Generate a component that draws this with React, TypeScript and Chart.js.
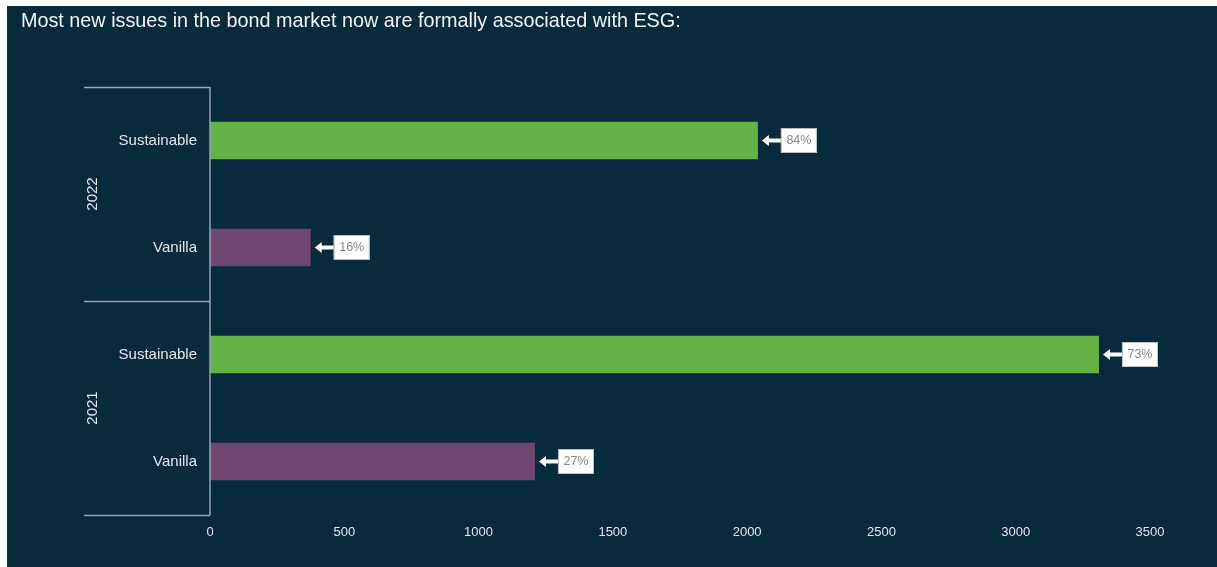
import React, { useEffect, useRef } from "react";
import { Chart, registerables } from "chart.js";

Chart.register(...registerables);

const TITLE = "Most new issues in the bond market now are formally associated with ESG:";
const categories = ["Sustainable", "Vanilla", "Sustainable", "Vanilla"];
const groups = ["2022", "2021"];
const groupSizes = [2, 2];
const values = [2040, 375, 3310, 1210];
const shares = ["84%", "16%", "73%", "27%"];
const barColors = ["#65b346", "#704772", "#65b346", "#704772"];
const xMax = 3500;
const xStep = 500;

const BG = "#072a3d";
const LINE = "#9aa5ab";
const TEXT = "#e3e8eb";
const FONT = "'Liberation Sans', Arial, sans-serif";

const decorPlugin = {
  id: "decor",
  beforeDraw(chart: any) {
    const { ctx, width, height } = chart;
    ctx.save();
    ctx.fillStyle = BG;
    ctx.fillRect(0, 0, width, height);
    ctx.restore();
  },
  afterDraw(chart: any) {
    const { ctx, chartArea } = chart;
    const y = chart.scales.y;
    ctx.save();
    // title
    ctx.fillStyle = "#f2f4f5";
    ctx.font = `19.8px ${FONT}`;
    ctx.textBaseline = "middle";
    ctx.textAlign = "left";
    ctx.fillText(TITLE, 14, 16);

    // vertical axis line
    ctx.strokeStyle = LINE;
    ctx.lineWidth = 1.5;
    ctx.beginPath();
    ctx.moveTo(chartArea.left, chartArea.top);
    ctx.lineTo(chartArea.left, chartArea.bottom);
    ctx.stroke();

    // group separators & labels
    const half = (y.getPixelForValue(1) - y.getPixelForValue(0)) / 2;
    let idx = 0;
    const bounds: number[] = [chartArea.top];
    groups.forEach((g, gi) => {
      const first = idx;
      const last = idx + groupSizes[gi] - 1;
      const top = y.getPixelForValue(first) - half;
      const bot = y.getPixelForValue(last) + half;
      bounds.push(bot);
      ctx.save();
      ctx.translate(86, (top + bot) / 2);
      ctx.rotate(-Math.PI / 2);
      ctx.fillStyle = TEXT;
      ctx.font = `15px ${FONT}`;
      ctx.textAlign = "center";
      ctx.textBaseline = "middle";
      ctx.fillText(g, 0, 0);
      ctx.restore();
      idx += groupSizes[gi];
    });
    ctx.strokeStyle = LINE;
    ctx.lineWidth = 1.5;
    bounds.forEach((b) => {
      ctx.beginPath();
      ctx.moveTo(77, Math.round(b) + 0.5);
      ctx.lineTo(chartArea.left, Math.round(b) + 0.5);
      ctx.stroke();
    });

    // value callouts
    const meta = chart.getDatasetMeta(0);
    meta.data.forEach((bar: any, i: number) => {
      const bx = bar.x;
      const by = bar.y;
      const tip = bx + 4;
      const boxL = bx + 23;
      const boxW = 36;
      const boxH = 25;
      ctx.fillStyle = "#ffffff";
      // arrow head
      ctx.beginPath();
      ctx.moveTo(tip, by);
      ctx.lineTo(tip + 7, by - 5.5);
      ctx.lineTo(tip + 7, by + 5.5);
      ctx.closePath();
      ctx.fill();
      // shaft
      ctx.fillRect(tip + 6, by - 2, boxL - tip - 6, 4);
      // box
      ctx.fillRect(boxL, by - boxH / 2, boxW, boxH);
      ctx.strokeStyle = "#b9bfc3";
      ctx.lineWidth = 1;
      ctx.strokeRect(boxL + 0.5, by - boxH / 2 + 0.5, boxW - 1, boxH - 1);
      ctx.fillStyle = "#858a8e";
      ctx.font = `12.5px ${FONT}`;
      ctx.textAlign = "center";
      ctx.textBaseline = "middle";
      ctx.fillText(shares[i], boxL + boxW / 2, by + 0.5);
    });
    ctx.restore();
  },
};

export default function App() {
  const ref = useRef<HTMLCanvasElement | null>(null);
  useEffect(() => {
    if (!ref.current) return;
    const chart = new Chart(ref.current, {
      type: "bar",
      data: {
        labels: categories,
        datasets: [
          {
            data: values,
            backgroundColor: barColors,
            borderWidth: 0,
            barPercentage: 1,
            categoryPercentage: 0.35,
          },
        ],
      },
      options: {
        indexAxis: "y",
        animation: false,
        responsive: true,
        maintainAspectRatio: false,
        layout: { padding: { top: 81, right: 67, left: 0, bottom: 0 } },
        plugins: {
          legend: { display: false },
          tooltip: { enabled: false },
          title: { display: false },
        },
        scales: {
          x: {
            min: 0,
            max: xMax,
            grid: { display: false, drawTicks: false },
            border: { display: false },
            ticks: {
              stepSize: xStep,
              color: TEXT,
              padding: 10,
              maxRotation: 0,
              font: { family: FONT, size: 13 },
              callback: (v: any) => String(v),
            },
            afterFit: (s: any) => {
              s.height = 52;
            },
          },
          y: {
            grid: { display: false, drawTicks: false },
            border: { display: false },
            ticks: {
              color: TEXT,
              padding: 13,
              font: { family: FONT, size: 15 },
            },
            afterFit: (s: any) => {
              s.width = 203;
            },
          },
        },
      },
      plugins: [decorPlugin],
    } as any);
    return () => chart.destroy();
  }, []);
  return (
    <div style={{ position: "absolute", left: 7, top: 6, width: 1210, height: 561 }}>
      <canvas ref={ref} />
    </div>
  );
}
